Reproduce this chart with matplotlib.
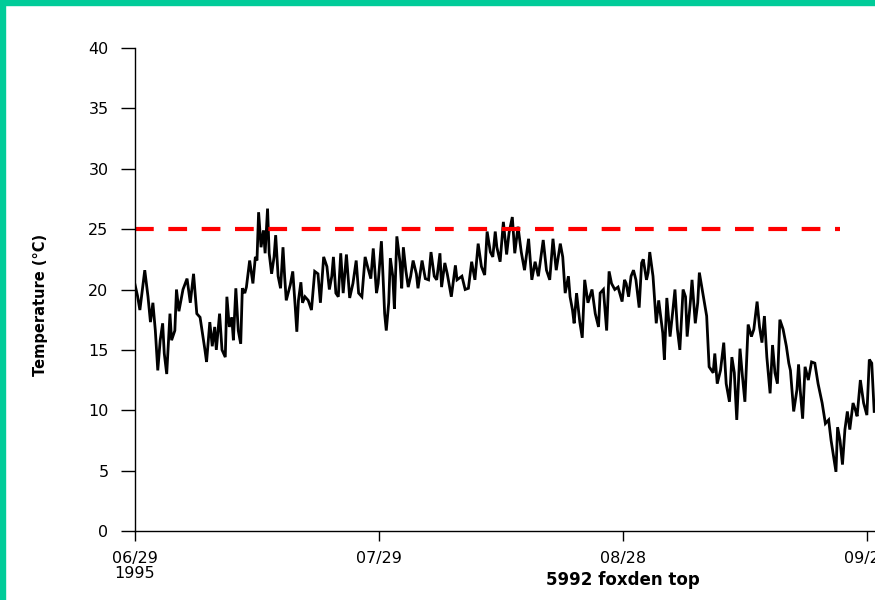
import matplotlib.pyplot as plt
from matplotlib.patches import Rectangle

# logger readings: days since 06/29/1995 and temperature in deg C
day = [
    0.0, 0.3, 0.6, 1.2, 1.6, 1.9, 2.2, 2.5, 2.8, 3.1,
    3.4, 3.6, 3.9, 4.3, 4.5, 4.9, 5.1, 5.4, 5.9, 6.4,
    6.8, 7.2, 7.6, 8.0, 8.6, 8.8, 9.2, 9.5, 9.8, 10.0,
    10.4, 10.7, 11.1, 11.3, 11.6, 11.9, 12.1, 12.4, 12.7, 13.0,
    13.2, 13.5, 13.7, 14.1, 14.5, 14.8, 15.0, 15.2, 15.5, 15.8,
    16.0, 16.3, 16.5, 16.8, 17.1, 17.3, 17.6, 17.9, 18.2, 18.4,
    18.6, 19.1, 19.4, 19.7, 19.9, 20.1, 20.4, 20.6, 20.9, 21.3,
    21.7, 22.1, 22.5, 22.8, 23.2, 23.6, 23.9, 24.2, 24.4, 24.7,
    25.0, 25.3, 25.6, 26.0, 26.4, 26.8, 27.2, 27.5, 27.9, 28.3,
    28.6, 29.0, 29.3, 29.7,
    29.9, 30.3, 30.5, 30.7, 30.9, 31.2, 31.4, 31.7, 31.9, 32.2,
    32.6, 32.8, 33.0, 33.3, 33.6, 33.9, 34.2, 34.6, 34.8, 35.3,
    35.7, 36.1, 36.4, 36.8, 37.1, 37.5, 37.7, 38.1, 38.4, 38.9,
    39.4, 39.6, 40.2, 40.6, 41.0, 41.4, 41.8, 42.2, 42.6, 43.0,
    43.3, 43.7, 44.0, 44.3, 44.5, 44.9, 45.3, 45.7, 46.0, 46.4,
    46.7, 47.1, 47.5, 47.9, 48.4, 48.8, 49.2, 49.6, 50.2, 50.6,
    51.0, 51.4, 51.8, 52.3, 52.6, 52.9, 53.3, 53.5, 53.8, 54.0,
    54.3, 54.7, 55.0, 55.3, 55.7, 56.2, 56.6, 57.0, 57.2, 57.6,
    58.0, 58.3, 58.6, 59.0, 59.4,
    59.9, 60.2, 60.4, 60.7, 61.0, 61.3, 61.6, 62.0, 62.3, 62.5,
    62.9, 63.1, 63.3, 63.7, 63.9, 64.1, 64.4, 64.6, 64.9, 65.1,
    65.4, 65.8, 66.1, 66.4, 66.7, 67.0, 67.4, 67.7, 67.9, 68.3,
    68.5, 68.9, 69.2, 69.4, 69.9, 70.3, 70.6, 71.1, 71.3, 71.6,
    72.0, 72.4, 72.7, 73.1, 73.4, 73.7, 74.0, 74.4, 74.7, 75.0,
    75.2, 75.4, 75.8, 76.1, 76.5, 76.8, 77.1, 77.4, 77.7, 78.1,
    78.4, 78.7, 79.0, 79.3, 79.7, 80.1, 80.4, 80.6, 81.0, 81.4,
    81.6, 81.8, 82.1, 82.4, 82.8, 83.2, 83.6, 84.0, 84.5, 84.9,
    85.3, 85.6, 85.9, 86.2, 86.4, 86.7, 87.0, 87.3, 87.6, 87.9,
    88.3, 88.6, 88.8, 89.2, 89.6, 90.0, 90.3, 90.6, 90.9,
]
temp_c = [
    20.4, 19.5, 18.3, 21.6, 19.4, 17.3, 18.9, 16.6, 13.3, 15.8,
    17.2, 14.7, 13.0, 18.0, 15.8, 16.6, 20.0, 18.2, 20.0, 20.9,
    18.9, 21.3, 18.0, 17.7, 15.0, 14.0, 17.3, 15.3, 16.9, 15.0,
    18.0, 15.0, 14.4, 19.4, 16.9, 17.7, 15.8, 20.1, 16.6, 15.5,
    20.1, 19.7, 20.2, 22.4, 20.5, 22.7, 22.4, 26.4, 23.5, 24.9,
    23.0, 26.7, 23.0, 21.3, 22.7, 24.5, 21.1, 20.1, 23.5, 21.1,
    19.1, 20.4, 21.5, 18.6, 16.5, 19.1, 20.6, 18.9, 19.4, 19.1,
    18.3, 21.5, 21.3, 18.9, 22.7, 21.9, 20.0, 21.1, 22.7, 19.7,
    19.4, 23.0, 19.7, 22.9, 19.3, 20.5, 22.4, 19.7, 19.4, 22.7,
    21.9, 20.9, 23.4, 19.7,
    20.5, 24.0, 21.1, 18.0, 16.6, 18.9, 22.6, 21.1, 18.4, 24.4,
    22.2, 20.1, 23.5, 21.6, 20.2, 21.1, 22.4, 21.3, 20.1, 22.4,
    20.9, 20.8, 23.1, 21.1, 20.8, 23.0, 20.2, 22.2, 21.3, 19.4,
    22.0, 20.8, 21.1, 20.0, 20.1, 22.3, 20.8, 23.8, 21.9, 21.2,
    24.8, 23.1, 22.7, 24.8, 23.5, 22.3, 25.6, 22.9, 24.7, 26.0,
    23.0, 25.2, 23.1, 21.6, 24.2, 20.8, 22.3, 21.1, 24.1, 21.6,
    20.8, 24.2, 21.6, 23.8, 22.7, 19.7, 21.1, 19.4, 18.3, 17.2,
    19.7, 17.3, 16.0, 20.8, 18.9, 20.0, 18.0, 16.9, 19.7, 20.0,
    16.6, 21.5, 20.5, 20.0, 20.2,
    19.0, 20.8, 20.5, 19.4, 21.1, 21.6, 20.8, 18.5, 22.2, 22.5,
    20.8, 21.4, 23.1, 21.1, 19.1, 17.2, 19.1, 18.0, 16.4, 14.2,
    19.3, 16.1, 18.0, 20.0, 16.7, 15.0, 20.0, 19.4, 16.1, 19.0,
    20.8, 17.2, 18.9, 21.4, 19.4, 17.8, 13.6, 13.1, 14.7, 12.2,
    13.3, 15.6, 12.2, 10.7, 14.4, 13.1, 9.2, 15.1, 12.8, 10.7,
    13.9, 17.1, 16.1, 16.7, 19.0, 16.9, 15.6, 17.8, 14.4, 11.4,
    15.4, 13.1, 12.2, 17.5, 16.7, 15.3, 13.9, 13.3, 9.9, 11.7,
    13.8, 11.7, 9.3, 13.6, 12.5, 14.0, 13.9, 12.2, 10.6, 8.9,
    9.2, 7.5, 6.2, 4.9, 8.6, 7.5, 5.5, 8.4, 9.9, 8.4,
    10.6, 10.0, 9.5, 12.5, 10.6, 9.6, 14.2, 13.9, 9.9,
]

tick_days = [0, 30, 60, 90]
tick_labels = ["06/29\n1995", "07/29", "08/28", "09/27"]
y_ticks = [0, 5, 10, 15, 20, 25, 30, 35, 40]
threshold = 25
threshold_days = (0, 86.7)
site_name = "5992 foxden top"

W, H = 875, 600
fig = plt.figure(figsize=(W / 100, H / 100), dpi=100)
fig.patch.set_facecolor("white")

# axes run off the right edge, like the original window
ax = fig.add_axes([135 / W, 69 / H, 740 / W, 483 / H])
ax.plot(day, temp_c, color="black", lw=2.0, solid_joinstyle="miter")
ax.hlines(threshold, *threshold_days, colors="#ff0000", lw=3,
          linestyles=(0, (4.5, 3.5)))

ax.set_xlim(0, 91)
ax.set_ylim(0, 40)
ax.set_xticks(tick_days)
ax.set_xticklabels(tick_labels, fontsize=11.5, linespacing=1.0)
ax.set_yticks(y_ticks)
ax.set_yticklabels([str(v) for v in y_ticks], fontsize=11.5)
ax.tick_params(axis="y", length=10, width=1, pad=9)
ax.tick_params(axis="x", length=7.5, width=1, pad=7)

for side in ("top", "right"):
    ax.spines[side].set_visible(False)
for side in ("left", "bottom"):
    ax.spines[side].set_linewidth(1)

fig.text(41 / W, 1 - 305 / H, "Temperature (°C)", rotation=90,
         ha="center", va="center", fontsize=10.5, fontweight="bold")
fig.text(623 / W, 1 - 580 / H, site_name, ha="center", va="center",
         fontsize=12, fontweight="bold")

# green window frame on the top and left edges
green = "#00cc99"
fig.patches.append(Rectangle((0, 1 - 5 / H), 1, 5 / H,
                             transform=fig.transFigure, color=green))
fig.patches.append(Rectangle((0, 0), 5 / W, 1,
                             transform=fig.transFigure, color=green))

fig.savefig("out.png", dpi=100)
